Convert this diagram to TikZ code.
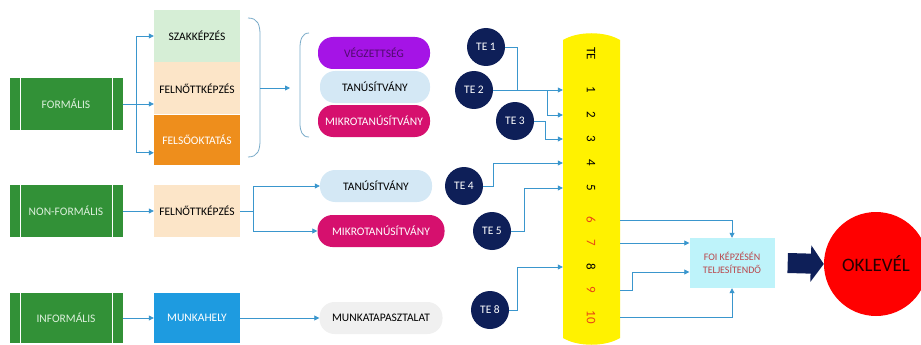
\documentclass[tikz,border=0pt]{standalone}
\usepackage{fontspec}
\setmainfont{Carlito}
\usetikzlibrary{positioning,arrows.meta}

\definecolor{kindgreen}{RGB}{50,145,55}
\definecolor{kindtext}{RGB}{220,240,220}
\definecolor{szakgreen}{RGB}{214,238,214}
\definecolor{peach}{RGB}{252,229,200}
\definecolor{orangebox}{RGB}{238,142,28}
\definecolor{purplepill}{RGB}{165,20,230}
\definecolor{purpletext}{RGB}{80,10,110}
\definecolor{bluepill}{RGB}{212,232,245}
\definecolor{magentapill}{RGB}{214,16,110}
\definecolor{navy}{RGB}{14,31,88}
\definecolor{linkblue}{RGB}{58,150,205}
\definecolor{workblue}{RGB}{30,155,224}
\definecolor{graypill}{RGB}{240,240,240}
\definecolor{foicyan}{RGB}{190,243,250}
\definecolor{foired}{RGB}{185,70,75}
\definecolor{numred}{RGB}{232,70,20}
\definecolor{bracegray}{RGB}{120,170,200}

\begin{document}
\begin{tikzpicture}[x=1pt,y=-1pt,
font=\fontsize{11.5}{12}\selectfont,
kind/.style={rectangle,fill=kindgreen,text=kindtext,minimum width=113pt,minimum height=52pt,inner sep=0,
    path picture={
    \draw[white] ([xshift=11pt]path picture bounding box.north west) -- ([xshift=11pt]path picture bounding box.south west);
    \draw[white] ([xshift=-10pt]path picture bounding box.north east) -- ([xshift=-10pt]path picture bounding box.south east);}},
box/.style={rectangle,minimum width=86pt,minimum height=52pt,inner sep=0},
pill/.style={rectangle,rounded corners=15pt,minimum width=112pt,minimum height=32pt,inner sep=0},
te/.style={circle,fill=navy,text=white,minimum size=38pt,inner sep=0},
num/.style={rotate=-90,font=\fontsize{13}{13}\selectfont},
link/.style={draw=linkblue,line width=0.8pt,-{Triangle[length=5pt,width=5pt]}}]
\useasboundingbox (0,0) rectangle (921,345);

% formal
\node (formal) [kind] at (66,104) {FORMÁLIS};
\node (szak) [box,fill=szakgreen] at (197,36) {SZAKKÉPZÉS};
\node (felnott) [box,fill=peach,below=0pt of szak] {FELNŐTTKÉPZÉS};
\node (felso) [box,fill=orangebox,text=white,minimum height=50pt,below=0pt of felnott] {FELSŐOKTATÁS};
\draw[link] (formal.east) -- ++(14,0) |- (szak.west);
\draw[link] (formal.east) -- (formal.east -| felnott.west);
\draw[link] (formal.east) -- ++(14,0) |- ([yshift=-13pt]felso.west);

\draw[bracegray,line width=0.8pt] (248,18) .. controls (258,18) and (260,25) .. (260,35) -- (260,140) .. controls (260,150) and (258,157) .. (248,157);
\coordinate (bracemid) at (260,88);
\coordinate (bracetip) at (290,88);
\draw[link] (bracemid) -- (bracetip);
\draw[bracegray,line width=0.8pt] (309,33) .. controls (302,33) and (300,40) .. (300,48) -- (300,123) .. controls (300,131) and (302,137) .. (309,137);

\node (vegz) [pill,fill=purplepill,text=purpletext] at (374,53) {VÉGZETTSÉG};
\node (tan1) [pill,fill=bluepill,minimum width=110pt] at (375,87) {TANÚSÍTVÁNY};
\node (mikro1) [pill,fill=magentapill,text=white] at (374,121) {MIKROTANÚSÍTVÁNY};

% non-formal
\node (nonformal) [kind] at (66,211) {NON-FORMÁLIS};
\node (felnott2) [box,fill=peach] at (197,211) {FELNŐTTKÉPZÉS};
\draw[link] (nonformal) -- (felnott2);
\node (tan2) [pill,fill=bluepill] at (376,186) {TANÚSÍTVÁNY};
\node (mikro2) [pill,fill=magentapill,text=white,minimum width=127pt] at (381,231) {MIKROTANÚSÍTVÁNY};
\draw[link] (felnott2.east) -- ++(13,0) |- (tan2.west);
\draw[link] (felnott2.east) -- ++(13,0) |- (mikro2.west);

% informal
\node (informal) [kind,minimum height=50pt] at (66,318) {INFORMÁLIS};
\node (munkahely) [box,fill=workblue,text=white,minimum height=50pt] at (197,318) {MUNKAHELY};
\node (tapasz) [pill,fill=graypill,minimum width=123pt] at (381,318) {MUNKATAPASZTALAT};
\draw[link] (informal) -- (munkahely);
\draw[link] (munkahely) -- (tapasz);

% TE bar
\fill[yellow] (563,40) .. controls (578,31) and (605,31) .. (620,40) -- (620,338) .. controls (605,347) and (578,347) .. (563,338) -- cycle;
\node (bar) [rectangle,minimum width=57pt,minimum height=298pt,inner sep=0] at (591.5,189) {};
\node (lte) [num] at (591,54) {TE};
\foreach \n/\y/\c in {1/90/black,2/115/black,3/139/black,4/163/black,5/188/black,6/220/numred,7/243/numred,8/267/black,9/290/numred,10/317/numred}
  \node (n\n) [num,text=\c] at (591,\y) {\n};

\node (te1) [te] at (486,47) {TE 1};
\node (te2) [te] at (474,90) {TE 2};
\node (te3) [te] at (515,121) {TE 3};
\node (te4) [te] at (464,186) {TE 4};
\node (te5) [te] at (492,231) {TE 5};
\node (te8) [te] at (490,310) {TE 8};
\draw[link] (te2.east) -- (te2.east -| bar.west);
\draw[link] (te1.east) -| (517,90) -- (547,90) |- (bar.west |- n2);
\draw[link] (te3.east) -- ++(11,0) |- (bar.west |- n3);
\draw[link] (te4.east) -- ++(10,0) |- (bar.west |- n4);
\draw[link] (te5.east) -- ++(13,0) |- (bar.west |- n5);
\draw[link] (te8.east) -- ++(8,0) |- (bar.west |- n8);

% result
\node (foi) [rectangle,fill=foicyan,text=foired,minimum width=85pt,minimum height=50pt,align=center,font=\fontsize{10}{13}\selectfont] at (732,263) {FOI KÉPZÉSÉN\\TELJESÍTENDŐ};
\draw[link] (bar.east |- n6) -| (foi.north);
\draw[link] (bar.east |- n7) -- (foi.west |- n7);
\draw[link] (bar.east |- n9) -- ++(12,0) |- ([yshift=-9pt]foi.west);
\draw[link] (bar.east |- n10) -| (foi.south);

\node (oklevel) [circle,fill=red,text=black!85!red,minimum size=104pt,inner sep=0,font=\fontsize{19}{20}\selectfont] at (876,264) {OKLEVÉL};
\draw[navy,line width=20pt,-{Triangle[length=13pt,width=36pt]}] ([xshift=13pt]foi.east) -- (oklevel.west);
\end{tikzpicture}
\end{document}
